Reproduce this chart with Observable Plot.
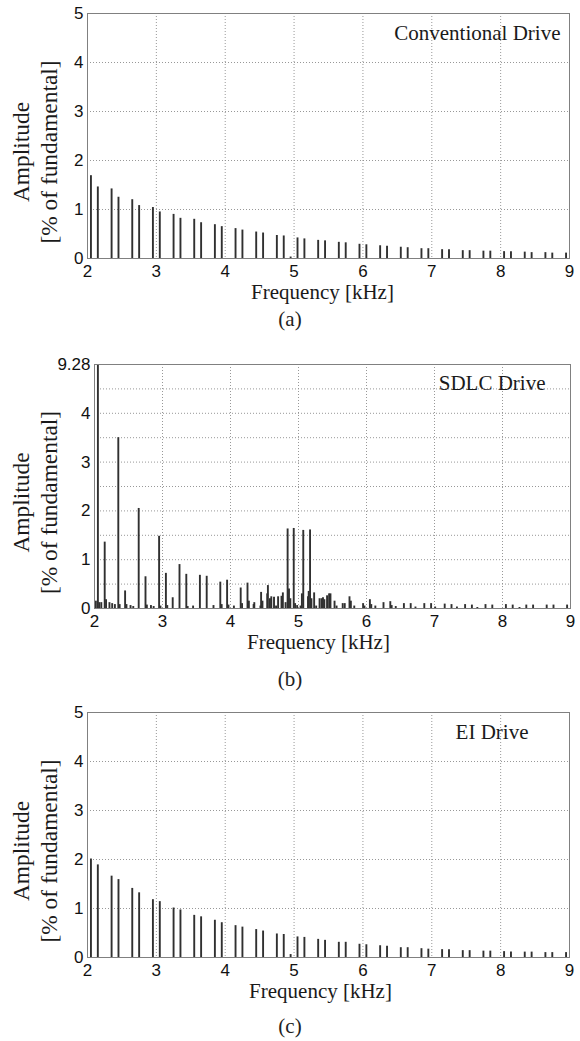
<!DOCTYPE html>
<html><head><meta charset="utf-8">
<script src="https://cdn.jsdelivr.net/npm/d3@7"></script>
<script src="https://cdn.jsdelivr.net/npm/@observablehq/plot@0.6"></script>
<style>
body{margin:0;background:#fff;width:580px;height:1041px;position:relative;overflow:hidden;}
.panel{position:absolute;left:0;}
.cap{position:absolute;left:0;width:580px;text-align:center;font-family:"Liberation Serif","Times New Roman",serif;font-size:21px;line-height:21px;color:#222;}
</style></head><body>
<div id="pa" class="panel" style="top:0px"></div>
<div class="cap" style="top:309px">(a)</div>
<div id="pb" class="panel" style="top:351px"></div>
<div class="cap" style="top:669px">(b)</div>
<div id="pc" class="panel" style="top:699px"></div>
<div class="cap" style="top:1016px">(c)</div>
<script>
// ---- data ----
const xTicks = [2, 3, 4, 5, 6, 7, 8, 9];
const yTicks5 = [0, 1, 2, 3, 4, 5];
const yTickLabels5 = ["0", "1", "2", "3", "4", "5"];
const yGrid5 = [1, 2, 3, 4];
const yTicksB = [0, 1, 2, 3, 4, 5];
const yTickLabelsB = ["0", "1", "2", "3", "4", "9.28"];
const yGridB = [0.5, 1, 1.5, 2, 2.5, 3, 3.5, 4, 4.5];

// Conventional drive: 6n±1 harmonics (kHz) and amplitudes (% of fundamental)
const convFreq = [2.05,2.15,2.35,2.45,2.65,2.75,2.95,3.05,3.25,3.35,3.55,3.65,3.85,3.95,4.15,4.25,4.45,4.55,4.75,4.85,4.95,5.05,5.15,5.35,5.45,5.65,5.75,5.95,6.05,6.25,6.35,6.55,6.65,6.85,6.95,7.15,7.25,7.45,7.55,7.75,7.85,8.05,8.15,8.35,8.45,8.65,8.75,8.95];
const convAmp  = [1.69,1.46,1.42,1.25,1.20,1.08,1.04,0.95,0.90,0.82,0.80,0.73,0.69,0.65,0.61,0.58,0.54,0.52,0.47,0.46,0.03,0.42,0.40,0.37,0.36,0.33,0.32,0.29,0.28,0.26,0.25,0.23,0.22,0.20,0.20,0.18,0.18,0.16,0.16,0.15,0.15,0.14,0.14,0.13,0.12,0.12,0.11,0.11];

// SDLC drive spectrum
const sdlcFreq = [2.02,2.05,2.07,2.10,2.15,2.17,2.22,2.26,2.30,2.35,2.37,2.45,2.47,2.53,2.57,2.65,2.75,2.77,2.83,2.87,2.95,2.97,3.05,3.07,3.15,3.25,3.35,3.37,3.45,3.55,3.65,3.75,3.85,3.87,3.95,3.97,4.05,4.15,4.17,4.25,4.27,4.34,4.35,4.44,4.45,4.47,4.54,4.55,4.58,4.60,4.64,4.67,4.70,4.75,4.77,4.81,4.84,4.86,4.88,4.93,4.95,4.98,5.03,5.05,5.07,5.14,5.15,5.17,5.19,5.23,5.26,5.31,5.34,5.36,5.38,5.42,5.45,5.47,5.53,5.56,5.65,5.68,5.75,5.77,5.82,5.95,5.97,6.05,6.07,6.13,6.25,6.35,6.37,6.43,6.55,6.65,6.72,6.85,6.95,7.01,7.15,7.25,7.33,7.45,7.55,7.63,7.75,7.85,8.05,8.15,8.25,8.35,8.45,8.65,8.75,8.95];
const sdlcAmp  = [0.15,9.28,0.12,0.12,1.36,0.18,0.12,0.10,0.08,3.50,0.08,0.36,0.08,0.06,0.04,2.05,0.65,0.07,0.06,0.04,1.48,0.05,0.72,0.06,0.22,0.90,0.70,0.04,0.05,0.68,0.66,0.06,0.54,0.08,0.58,0.07,0.05,0.42,0.10,0.52,0.15,0.08,0.12,0.05,0.33,0.15,0.30,0.47,0.20,0.24,0.23,0.05,0.24,0.25,0.32,0.12,1.63,0.40,0.20,1.64,0.10,0.06,0.05,0.30,1.60,0.24,0.35,1.61,0.20,0.32,0.05,0.20,0.20,0.22,0.18,0.26,0.30,0.30,0.15,0.05,0.10,0.10,0.24,0.15,0.05,0.10,0.05,0.18,0.08,0.05,0.12,0.14,0.06,0.04,0.10,0.10,0.03,0.10,0.10,0.03,0.09,0.08,0.03,0.08,0.07,0.02,0.08,0.07,0.08,0.07,0.02,0.07,0.07,0.07,0.07,0.07];

// EI drive
const eiFreq = [2.05,2.15,2.35,2.45,2.65,2.75,2.95,3.05,3.25,3.35,3.55,3.65,3.85,3.95,4.15,4.25,4.45,4.55,4.75,4.85,4.95,5.05,5.15,5.35,5.45,5.65,5.75,5.95,6.05,6.25,6.35,6.55,6.65,6.85,6.95,7.15,7.25,7.45,7.55,7.75,7.85,8.05,8.15,8.35,8.45,8.65,8.75,8.95];
const eiAmp  = [2.01,1.89,1.66,1.59,1.41,1.32,1.18,1.14,1.01,0.97,0.86,0.83,0.76,0.71,0.65,0.62,0.57,0.54,0.48,0.47,0.06,0.42,0.41,0.37,0.35,0.31,0.31,0.27,0.26,0.24,0.23,0.20,0.20,0.18,0.17,0.16,0.16,0.14,0.14,0.13,0.13,0.12,0.11,0.11,0.11,0.10,0.10,0.10];

const SANS = "'Liberation Sans', Arial, sans-serif";
const SERIF = "'Liberation Serif', 'Times New Roman', serif";

function panel(el, o) {
  const data = o.freq.map((f, i) => ({f, a: o.amp[i]}));
  const grid = {stroke: "#8c8c8c", strokeOpacity: 1, strokeWidth: 0.9, strokeDasharray: "1,2"};
  const p = Plot.plot({
    width: 580,
    height: 13 + o.innerH + 45,
    marginTop: 13, marginBottom: 45, marginLeft: o.ml, marginRight: o.mr,
    x: {domain: [2, 9]},
    y: {domain: [0, 5]},
    style: {background: "transparent", fontFamily: SANS, fontSize: "17px", color: "#111", overflow: "visible"},
    marks: [
      Plot.gridX(xTicks.slice(1, -1), grid),
      Plot.gridY(o.yGrid, grid),
      Plot.ruleX(data, {x: "f", y1: 0, y2: "a", stroke: "#303030", strokeWidth: 1.9, clip: true}),
      Plot.frame({stroke: "#808080", strokeWidth: 1}),
      Plot.axisX(xTicks, {tickSize: 0, tickPadding: 6, label: null, fill: "#111"}),
      Plot.axisY(o.yTicks, {tickSize: 0, tickPadding: 4, label: null, fill: "#111",
        tickFormat: d => o.yLabels[o.yTicks.indexOf(d)]}),
      Plot.text([o.title], {frameAnchor: "top-right", textAnchor: "end", lineAnchor: "middle",
        dx: o.tdx, dy: o.tdy, fontFamily: SERIF, fontSize: 21, fill: "#1a1a1a"}),
      Plot.text(["Frequency [kHz]"], {frameAnchor: "bottom", textAnchor: "middle", lineAnchor: "middle",
        dx: o.xldx, dy: 34, fontFamily: SERIF, fontSize: 21, fill: "#1a1a1a"}),
      Plot.text(["Amplitude\n[% of fundamental]"], {frameAnchor: "left", textAnchor: "middle", rotate: -90, lineAnchor: "middle",
        lineHeight: 1.2, dx: o.yldx, dy: 16, fontFamily: SERIF, fontSize: 23.4, fill: "#1a1a1a"})
    ]
  });
  document.getElementById(el).appendChild(p);
}

panel("pa", {freq: convFreq, amp: convAmp, innerH: 245, ml: 87, mr: 11, yTicks: yTicks5, yLabels: yTickLabels5,
  yGrid: yGrid5, title: "Conventional Drive", tdx: -9, tdy: 20, xldx: -6, yldx: -53.5});
panel("pb", {freq: sdlcFreq, amp: sdlcAmp, innerH: 244, ml: 94, mr: 10, yTicks: yTicksB, yLabels: yTickLabelsB,
  yGrid: yGridB, title: "SDLC Drive", tdx: -25, tdy: 19, xldx: -14, yldx: -60.5});
panel("pc", {freq: eiFreq, amp: eiAmp, innerH: 245, ml: 87, mr: 11, yTicks: yTicks5, yLabels: yTickLabels5,
  yGrid: yGrid5, title: "EI Drive", tdx: -41, tdy: 20, xldx: -8, yldx: -53.5});
</script>
</body></html>
